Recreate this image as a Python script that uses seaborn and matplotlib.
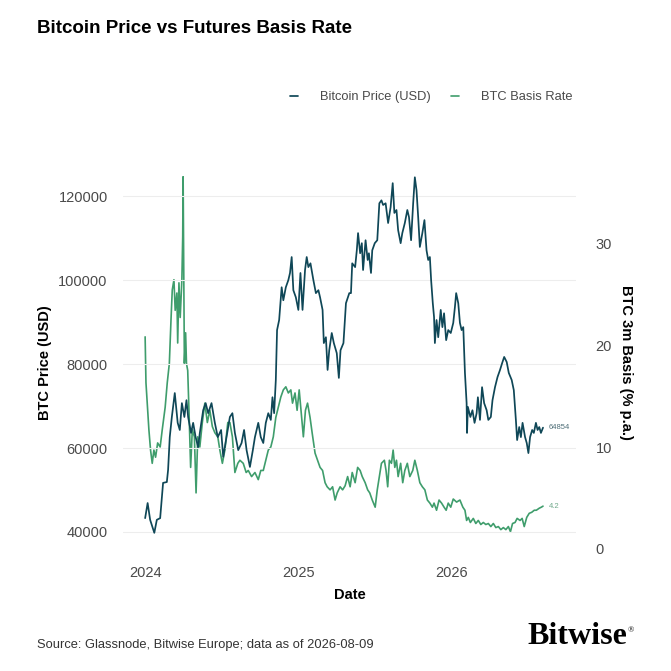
import matplotlib
matplotlib.use('Agg')
import matplotlib.pyplot as plt
import matplotlib.dates as mdates
import pandas as pd
import seaborn as sns

# Days since 2024-01-01 and the value at that day
price_day = [-2, 4, 10, 20, 26, 34, 41, 50, 53, 57, 62, 69, 76, 81, 86, 92, 97, 101, 108, 113,
             119, 125, 129, 137, 143, 149, 157, 165, 172, 180, 185, 193, 201, 207, 213, 221, 229, 235, 241, 249,
             256, 261, 269, 275, 281, 287, 293, 299, 303, 307, 311, 314, 319, 325, 329, 335, 341, 345, 349, 353,
             359, 365, 370, 375, 381, 385, 389, 394, 401, 407, 413, 417, 423, 426, 431, 435, 439, 445, 450, 457,
             462, 466, 473, 479, 487, 491, 494, 501, 505, 508, 513, 517, 520, 526, 531, 534, 539, 542, 548, 554,
             559, 564, 568, 574, 580, 586, 591, 595, 600, 604, 610, 614, 620, 626, 630, 635, 640, 644, 648, 652,
             656, 662, 667, 672, 676, 680, 683, 687, 690, 692, 696, 700, 706, 710, 714, 719, 724, 730, 736, 740,
             743, 748, 752, 756, 760, 762, 764, 768, 769, 771, 777, 782, 787, 792, 795, 800, 805, 810, 816, 820,
             826, 830, 836, 842, 848, 853, 858, 864, 869, 876, 881, 886, 889, 894, 898, 902, 908, 912, 916, 920,
             925, 929, 934, 938, 942, 946, 951]
price_usd = [43300, 46900, 42900, 39800, 42900, 43300, 51700, 51900, 54800, 62600, 67400, 73100, 66000, 64300, 70700,
             67400, 71400, 67400, 63600, 66000, 62600, 60200, 63600, 69000, 70700, 68300, 70700, 66000, 62600, 64300,
             57900, 62600, 67400, 68300, 63600, 59500, 61200, 64300, 59500, 55500, 59500, 62600, 66000, 62600, 61200,
             66000, 68300, 66700, 72100, 68300, 76200, 88100, 90500, 98300, 95200, 98300, 100000, 101700, 105500, 97600,
             95900, 92900, 101700, 92900, 102400, 105500, 103100, 104000, 100000, 96900, 97600, 95900, 92900, 85000, 86400,
             78600, 83300, 87400, 85000, 82600, 76700, 83300, 85000, 94500, 96900, 96900, 104000, 103100, 107100, 111200,
             106400, 108800, 102400, 109500, 104800, 106400, 101700, 107100, 108800, 109500, 118300, 119000, 117900, 118300,
             113600, 117400, 123100, 116000, 116700, 111900, 108800, 111200, 113600, 116700, 115000, 109500, 118300, 124500,
             121400, 115000, 107900, 111200, 114300, 107100, 104800, 105500, 100000, 94500, 91200, 85000, 90500, 86400,
             92900, 88800, 92100, 85700, 88100, 87400, 89800, 93600, 96900, 94500, 89800, 88100, 88800, 83300, 77900,
             70700, 63600, 69800, 67400, 69000, 66000, 68300, 72100, 66700, 74500, 70700, 69000, 66700, 67400, 71400,
             74500, 76900, 78600, 80200, 81700, 80500, 77900, 76200, 73800, 66700, 61900, 65000, 62600, 66000, 62600,
             61200, 58800, 62600, 64300, 63600, 66000, 64300, 65000, 63600, 64854]

basis_day = [-2, 0, 4, 7, 11, 15, 19, 23, 28, 34, 39, 46, 51, 56, 60, 63, 67, 70, 74, 76,
             79, 82, 86, 88, 89, 92, 95, 97, 100, 103, 107, 111, 116, 120, 124, 129, 135, 141, 147, 153,
             159, 165, 172, 177, 183, 189, 196, 201, 207, 213, 220, 225, 233, 240, 245, 253, 261, 269, 275, 281,
             287, 293, 299, 305, 311, 317, 323, 329, 335, 341, 347, 351, 357, 362, 367, 373, 377, 382, 387, 393,
             398, 405, 411, 417, 423, 429, 434, 441, 447, 453, 458, 465, 471, 477, 483, 489, 494, 501, 507, 513,
             518, 525, 531, 536, 542, 549, 554, 559, 564, 571, 575, 579, 583, 588, 592, 596, 600, 604, 610, 615,
             620, 626, 632, 639, 644, 650, 656, 662, 668, 674, 680, 686, 690, 696, 702, 708, 714, 719, 724, 730,
             736, 744, 752, 759, 764, 768, 772, 777, 784, 790, 796, 802, 808, 814, 820, 826, 832, 838, 844, 850,
             856, 862, 868, 873, 878, 884, 889, 896, 901, 906, 912, 918, 924, 930, 935, 942, 947, 951]
basis_pct = [20.8, 16.3, 13.6, 11.7, 9.7, 8.4, 9.7, 9.0, 10.4, 10.0, 11.7, 13.9, 16.3, 18.2, 22.5, 25.4, 26.4, 23.4,
             25.1, 20.2, 26.1, 22.7, 26.4, 30.6, 36.5, 18.2, 21.2, 18.2, 17.5, 13.6, 8.0, 11.7, 11.0, 5.5, 11.0, 10.0,
             12.4, 14.3, 12.4, 13.6, 12.0, 11.4, 11.0, 9.7, 8.4, 9.7, 12.4, 12.4, 11.0, 7.5, 8.4, 8.7, 8.4, 7.5,
             7.7, 7.1, 7.5, 6.8, 7.7, 7.7, 8.7, 9.7, 10.0, 11.0, 12.9, 13.9, 14.9, 15.6, 15.9, 15.3, 15.6, 14.3,
             15.3, 13.6, 15.6, 12.9, 11.0, 13.6, 14.3, 12.9, 11.4, 9.4, 8.7, 8.0, 7.7, 6.5, 6.1, 5.8, 6.1, 4.8,
             5.5, 6.1, 5.8, 6.2, 7.1, 6.1, 7.5, 6.5, 8.0, 7.7, 7.1, 6.5, 5.8, 5.5, 4.8, 4.1, 5.8, 7.1, 8.4, 8.7,
             7.7, 6.1, 8.7, 8.4, 9.7, 8.0, 8.7, 7.1, 8.4, 6.5, 7.7, 8.4, 7.1, 7.7, 8.7, 7.7, 6.5, 6.1, 5.8, 4.8,
             4.5, 4.1, 4.5, 3.8, 4.8, 4.5, 4.1, 3.8, 4.5, 4.1, 4.9, 4.6, 4.8, 4.1, 3.8, 2.8, 3.1, 2.6, 3.0, 2.5,
             2.8, 2.4, 2.6, 2.4, 2.5, 2.2, 2.5, 2.1, 2.2, 1.9, 2.1, 1.9, 2.2, 1.7, 2.5, 2.6, 3.0, 2.8, 3.0, 2.2,
             3.1, 3.5, 3.6, 3.8, 3.8, 4.0, 4.1, 4.2]

price_ticks = [40000, 60000, 80000, 100000, 120000]
basis_ticks = [0, 10, 20, 30]
year_ticks = ['2024-01-01', '2025-01-01', '2026-01-01']

start = pd.Timestamp('2024-01-01')
price_df = pd.DataFrame({'Date': start + pd.to_timedelta(price_day, unit='D'), 'Price': price_usd})
basis_df = pd.DataFrame({'Date': start + pd.to_timedelta(basis_day, unit='D'), 'Basis': basis_pct})

btc_color = '#0f4757'
basis_color = '#3f9d6c'
text_grey = '#4a4a4a'

sns.set_theme(style='white')
plt.rcParams['font.family'] = ['Liberation Sans', 'DejaVu Sans']

fig = plt.figure(figsize=(6.71, 6.71), dpi=100)
ax = fig.add_axes([123 / 671, 1 - 549 / 671, 453 / 671, 373 / 671])
ax2 = ax.twinx()

sns.lineplot(data=price_df, x='Date', y='Price', ax=ax, color=btc_color, linewidth=1.25,
             label='Bitcoin Price (USD)', legend=False)
sns.lineplot(data=basis_df, x='Date', y='Basis', ax=ax2, color=basis_color, linewidth=1.2,
             label='BTC Basis Rate', legend=False)
ax.set_zorder(ax2.get_zorder() + 1)
ax.patch.set_visible(False)

ax.set_xlim(pd.Timestamp('2023-11-07'), pd.Timestamp('2026-10-27'))
ax.set_ylim(35950, 124800)
ax2.set_ylim(0, 36.57)

ax.set_xticks(pd.to_datetime(year_ticks))
ax.xaxis.set_major_formatter(mdates.DateFormatter('%Y'))
ax.set_yticks(price_ticks)
ax.set_yticklabels([str(t) for t in price_ticks])
ax2.set_yticks(basis_ticks)

ax.tick_params(axis='x', length=0, pad=12, labelsize=10.5, labelcolor=text_grey)
ax.tick_params(axis='y', length=0, pad=11, labelsize=10.5, labelcolor=text_grey)
ax2.tick_params(axis='y', length=0, pad=14, labelsize=10.5, labelcolor=text_grey)

ax.yaxis.grid(True, color='#ededed', linewidth=0.8)
ax.xaxis.grid(False)
ax2.grid(False)
for a in (ax, ax2):
    for s in a.spines.values():
        s.set_visible(False)

ax.set_xlabel('Date', fontsize=10.5, fontweight='bold', color='black', labelpad=6)
ax.set_ylabel('BTC Price (USD)', fontsize=10.5, fontweight='bold', color='black')
ax.yaxis.set_label_coords(-0.156, 0.5)
ax2.set_ylabel('BTC 3m Basis (% p.a.)', fontsize=10.5, fontweight='bold', color='black', rotation=270, va='center')
ax2.yaxis.set_label_coords(1.111, 0.5)

# last value labels
ax.annotate(str(price_usd[-1]), (price_df['Date'].iloc[-1], price_usd[-1]), xytext=(4, 0),
            textcoords='offset points', fontsize=5.5, color='#4f6f78', va='center')
ax2.annotate(str(basis_pct[-1]), (basis_df['Date'].iloc[-1], basis_pct[-1]), xytext=(4, 0),
             textcoords='offset points', fontsize=5.5, color='#6fa98a', va='center')

h1, l1 = ax.get_legend_handles_labels()
h2, l2 = ax2.get_legend_handles_labels()
fig.legend(h1 + h2, l1 + l2, loc='center', bbox_to_anchor=(0.643, 0.855), ncol=2, frameon=False,
           handlelength=0.6, handletextpad=1.7, columnspacing=1.6, fontsize=9.3, labelcolor=text_grey)

fig.text(0.055, 0.958, 'Bitcoin Price vs Futures Basis Rate', fontsize=13.5, fontweight='bold',
         color='black', va='center', ha='left')
fig.text(0.055, 1 - 645 / 671, 'Source: Glassnode, Bitwise Europe; data as of 2026-08-09', fontsize=9.3,
         color='#333333', va='center', ha='left')
fig.text(0.786, 1 - 637 / 671, 'Bitwise', fontsize=23, fontweight='bold', family='Liberation Serif',
         color='black', va='center', ha='left')
fig.text(0.935, 1 - 630 / 671, '\u00ae', fontsize=6, family='Liberation Serif', color='black',
         va='center', ha='left')

fig.savefig('out.png', dpi=100)
